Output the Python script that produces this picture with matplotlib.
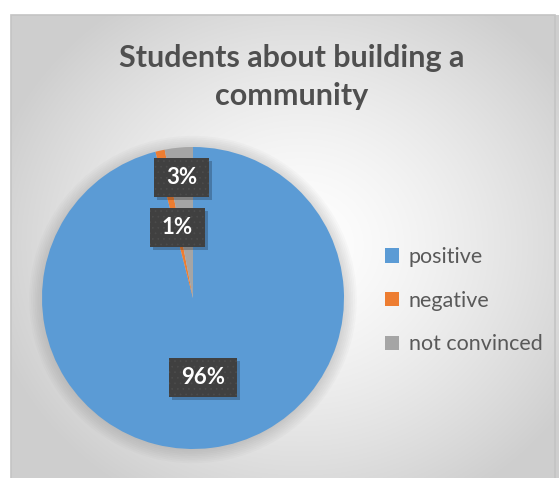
import numpy as np
import matplotlib.pyplot as plt
from matplotlib.patches import Rectangle, Circle

# data
categories = ["positive", "negative", "not convinced"]
shares = [96, 1, 3]
pct_labels = ["96%", "1%", "3%"]
colors = ["#5B9BD5", "#ED7D31", "#A5A5A5"]
title = "Students about building a\ncommunity"

plt.rcParams["font.family"] = ["Lato", "DejaVu Sans"]
plt.rcParams["hatch.linewidth"] = 0.5

W, H = 559, 478
fig = plt.figure(figsize=(W / 100, H / 100), dpi=100)
fig.patch.set_facecolor("white")


def fx(px):
    return px / W


def fy(py):
    return 1 - py / H


# chart area with radial gradient
bg = fig.add_axes([fx(11), 0, 1 - fx(11), fy(15)])
yy, xx = np.mgrid[15:H, 11:W]
d = np.sqrt(((xx - 300) / 320.0) ** 2 + ((yy - 245) / 290.0) ** 2)
g = 1 - 0.19 * np.clip(d, 0, 1) ** 1.4
bg.imshow(np.dstack([g, g, g]), extent=[11, W, H, 15], aspect="auto")
bg.set_axis_off()
fig.add_artist(Rectangle((fx(11), -0.1), fx(544), fy(15) + 0.1, transform=fig.transFigure,
                         facecolor="none", edgecolor="#c4c4c4", linewidth=1.2))

# pie
cx, cy, r = 193, 298, 151
ax = fig.add_axes([fx(cx - r), fy(cy + r), 2 * r / W, 2 * r / H])
for k in range(8):
    ax.add_patch(Circle((0.0, -0.01), 1.0 + 0.012 * k, facecolor="#707070",
                        alpha=0.035, edgecolor="none", clip_on=False, zorder=0))
wedges, _ = ax.pie(shares, colors=colors, startangle=90, counterclock=False,
                   radius=1, wedgeprops=dict(linewidth=0))
ax.set_xlim(-1, 1)
ax.set_ylim(-1, 1)
ax.set_axis_off()

# data labels
px = 1.0 / r  # one pixel in data units
label_r = [0.53, 0.48, 0.80]
total = float(sum(shares))
theta = 90.0
texts = []
for share, lab, rr in zip(shares, pct_labels, label_r):
    span = 360.0 * share / total
    mid = np.radians(theta - span / 2)
    theta -= span
    x, y = rr * np.cos(mid), rr * np.sin(mid)
    t = ax.text(x, y, lab, ha="center", va="center", color="white",
                fontsize=16, fontweight="bold", zorder=5)
    texts.append((t, x, y))

fig.canvas.draw()
ren = fig.canvas.get_renderer()
for t, x, y in texts:
    bb = t.get_window_extent(ren)
    bw = (bb.width + 24) * px
    bh = 39 * px
    ax.add_patch(Rectangle((x - bw / 2 + 3 * px, y - bh / 2 - 3 * px), bw, bh,
                           facecolor="black", alpha=0.22, edgecolor="none", zorder=3))
    ax.add_patch(Rectangle((x - bw / 2, y - bh / 2), bw, bh, facecolor="#404040",
                           edgecolor="#4c4c4c", linewidth=0, hatch="...", zorder=4))

# legend
fig.legend(wedges, categories, loc="upper left", bbox_to_anchor=(fx(385), fy(247)),
           frameon=False, fontsize=15.5, labelcolor="#595959",
           handlelength=0.65, handleheight=0.65, handletextpad=0.45,
           labelspacing=1.1, borderpad=0, borderaxespad=0)

fig.text(fx(292), fy(77), title, ha="center", va="center", fontsize=22,
         fontweight="bold", color="#4f4f4f", linespacing=1.45)

fig.savefig("out.png", dpi=100)
